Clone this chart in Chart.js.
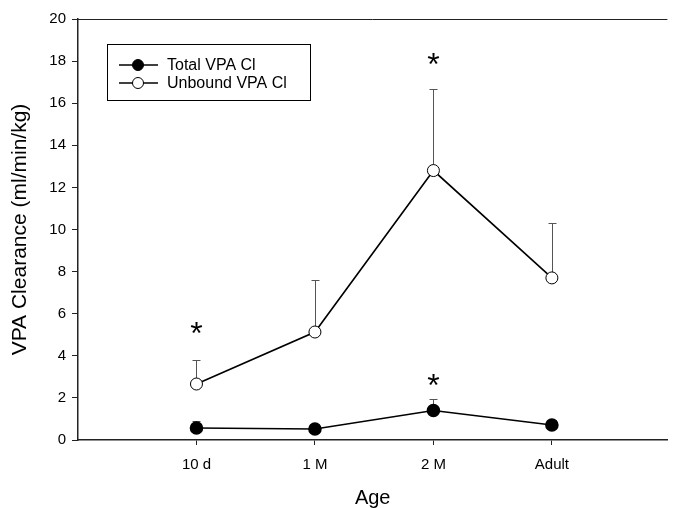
<!DOCTYPE html>
<html>
<head>
<meta charset="utf-8">
<script src="https://cdn.jsdelivr.net/npm/chart.js@4/dist/chart.umd.min.js"></script>
<style>
  html, body { margin: 0; padding: 0; background: #fff; }
  #wrap { width: 675px; height: 508px; position: relative; }
</style>
</head>
<body>
<div id="wrap"><canvas id="c"></canvas></div>
<script>
// ages on the x axis (positions 1..4)
const ages = ['10 d', '1 M', '2 M', 'Adult'];
const totalCl = [0.57, 0.52, 1.4, 0.71];
const totalErr = [0.33, 0.2, 0.55, 0.25];
const unboundCl = [2.66, 5.13, 12.8, 7.7];
const unboundErr = [1.14, 2.47, 3.87, 2.6];
// significance stars: [age index, y value]
const stars = [[0, 5.3], [2, 18.1], [2, 2.85]];
const yTicks = [0, 2, 4, 6, 8, 10, 12, 14, 16, 18, 20];

const font = "'Liberation Sans', Arial, sans-serif";

const toPoints = vals => vals.map((v, i) => ({ x: i + 1, y: v }));

const errorBars = {
    id: 'errorBars',
    beforeDatasetsDraw(chart) {
        const ctx = chart.ctx;
        const x = chart.scales.x;
        const y = chart.scales.y;
        const sets = [[totalCl, totalErr], [unboundCl, unboundErr]];
        ctx.save();
        ctx.strokeStyle = '#555';
        ctx.lineWidth = 1;
        sets.forEach(([vals, errs]) => {
            vals.forEach((v, i) => {
                const px = Math.round(x.getPixelForValue(i + 1)) + 0.5;
                const y0 = y.getPixelForValue(v);
                const y1 = Math.round(y.getPixelForValue(v + errs[i])) + 0.5;
                ctx.beginPath();
                ctx.moveTo(px, y0);
                ctx.lineTo(px, y1);
                ctx.moveTo(px - 4, y1);
                ctx.lineTo(px + 4, y1);
                ctx.stroke();
            });
        });
        ctx.restore();
    }
};

const extras = {
    id: 'extras',
    afterDraw(chart) {
        const ctx = chart.ctx;
        const a = chart.chartArea;
        const x = chart.scales.x;
        const y = chart.scales.y;
        ctx.save();
        // top frame line
        ctx.strokeStyle = '#222';
        ctx.lineWidth = 1;
        ctx.beginPath();
        ctx.moveTo(a.left, Math.round(a.top) + 0.5);
        ctx.lineTo(a.right, Math.round(a.top) + 0.5);
        ctx.stroke();
        // stars
        ctx.fillStyle = '#000';
        ctx.font = '32px ' + font;
        ctx.textAlign = 'center';
        ctx.textBaseline = 'middle';
        stars.forEach(([i, v]) => {
            ctx.fillText('*', x.getPixelForValue(i + 1), y.getPixelForValue(v) + 7);
        });
        // legend
        const lx = 107, ly = 44, lw = 203, lh = 56;
        ctx.strokeStyle = '#000';
        ctx.strokeRect(lx + 0.5, ly + 0.5, lw, lh);
        const rows = [['Total VPA Cl', '#000'], ['Unbound VPA Cl', '#fff']];
        ctx.font = '16px ' + font;
        ctx.textAlign = 'left';
        rows.forEach(([label, fill], k) => {
            const ry = ly + 21 + k * 18;
            ctx.lineWidth = 1.5;
            ctx.beginPath();
            ctx.moveTo(119, ry);
            ctx.lineTo(158, ry);
            ctx.stroke();
            ctx.beginPath();
            ctx.arc(138, ry, 5.5, 0, Math.PI * 2);
            ctx.fillStyle = fill;
            ctx.fill();
            ctx.lineWidth = 1;
            ctx.stroke();
            ctx.fillStyle = '#000';
            ctx.fillText(label, 167, ry + 1);
        });
        ctx.restore();
    }
};

new Chart(document.getElementById('c'), {
    type: 'line',
    data: {
        datasets: [{
            label: 'Total VPA Cl',
            data: toPoints(totalCl),
            borderColor: '#000',
            borderWidth: 1.6,
            backgroundColor: '#000',
            pointBackgroundColor: '#000',
            pointBorderColor: '#000',
            pointRadius: 6,
            order: 1
        }, {
            label: 'Unbound VPA Cl',
            data: toPoints(unboundCl),
            borderColor: '#000',
            borderWidth: 1.6,
            pointBackgroundColor: '#fff',
            pointBorderColor: '#000',
            pointBorderWidth: 1,
            pointRadius: 6,
            order: 0
        }]
    },
    options: {
        responsive: true,
        maintainAspectRatio: false,
        animation: false,
        layout: { padding: { top: 19, right: 0, left: 0, bottom: 0 } },
        plugins: {
            legend: { display: false },
            tooltip: { enabled: false }
        },
        scales: {
            x: {
                type: 'linear',
                min: 0,
                max: 4.975,
                afterBuildTicks: s => { s.ticks = ages.map((_, i) => ({ value: i + 1 })); },
                afterFit: s => { s.height = 68; },
                ticks: {
                    callback: v => ages[v - 1],
                    color: '#000',
                    font: { family: font, size: 15 },
                    padding: 11,
                    maxRotation: 0
                },
                grid: { drawOnChartArea: false, tickLength: 5, color: '#222' },
                border: { color: '#222', width: 1.5 },
                title: {
                    display: true,
                    text: 'Age',
                    color: '#000',
                    font: { family: font, size: 20, lineHeight: 1.0 },
                    padding: { top: 0, bottom: 0 }
                }
            },
            y: {
                min: 0,
                max: 20,
                afterBuildTicks: s => { s.ticks = yTicks.map(v => ({ value: v })); },
                afterFit: s => { s.width = 78; },
                ticks: {
                    color: '#000',
                    font: { family: font, size: 15 },
                    padding: 6
                },
                grid: { drawOnChartArea: false, tickLength: 6, color: '#222' },
                border: { color: '#222', width: 1.5 },
                title: {
                    display: true,
                    text: 'VPA Clearance (ml/min/kg)',
                    color: '#000',
                    font: { family: font, size: 21, lineHeight: 1.2 },
                    padding: { top: 8, bottom: 0 }
                }
            }
        }
    },
    plugins: [errorBars, extras]
});
</script>
</body>
</html>
